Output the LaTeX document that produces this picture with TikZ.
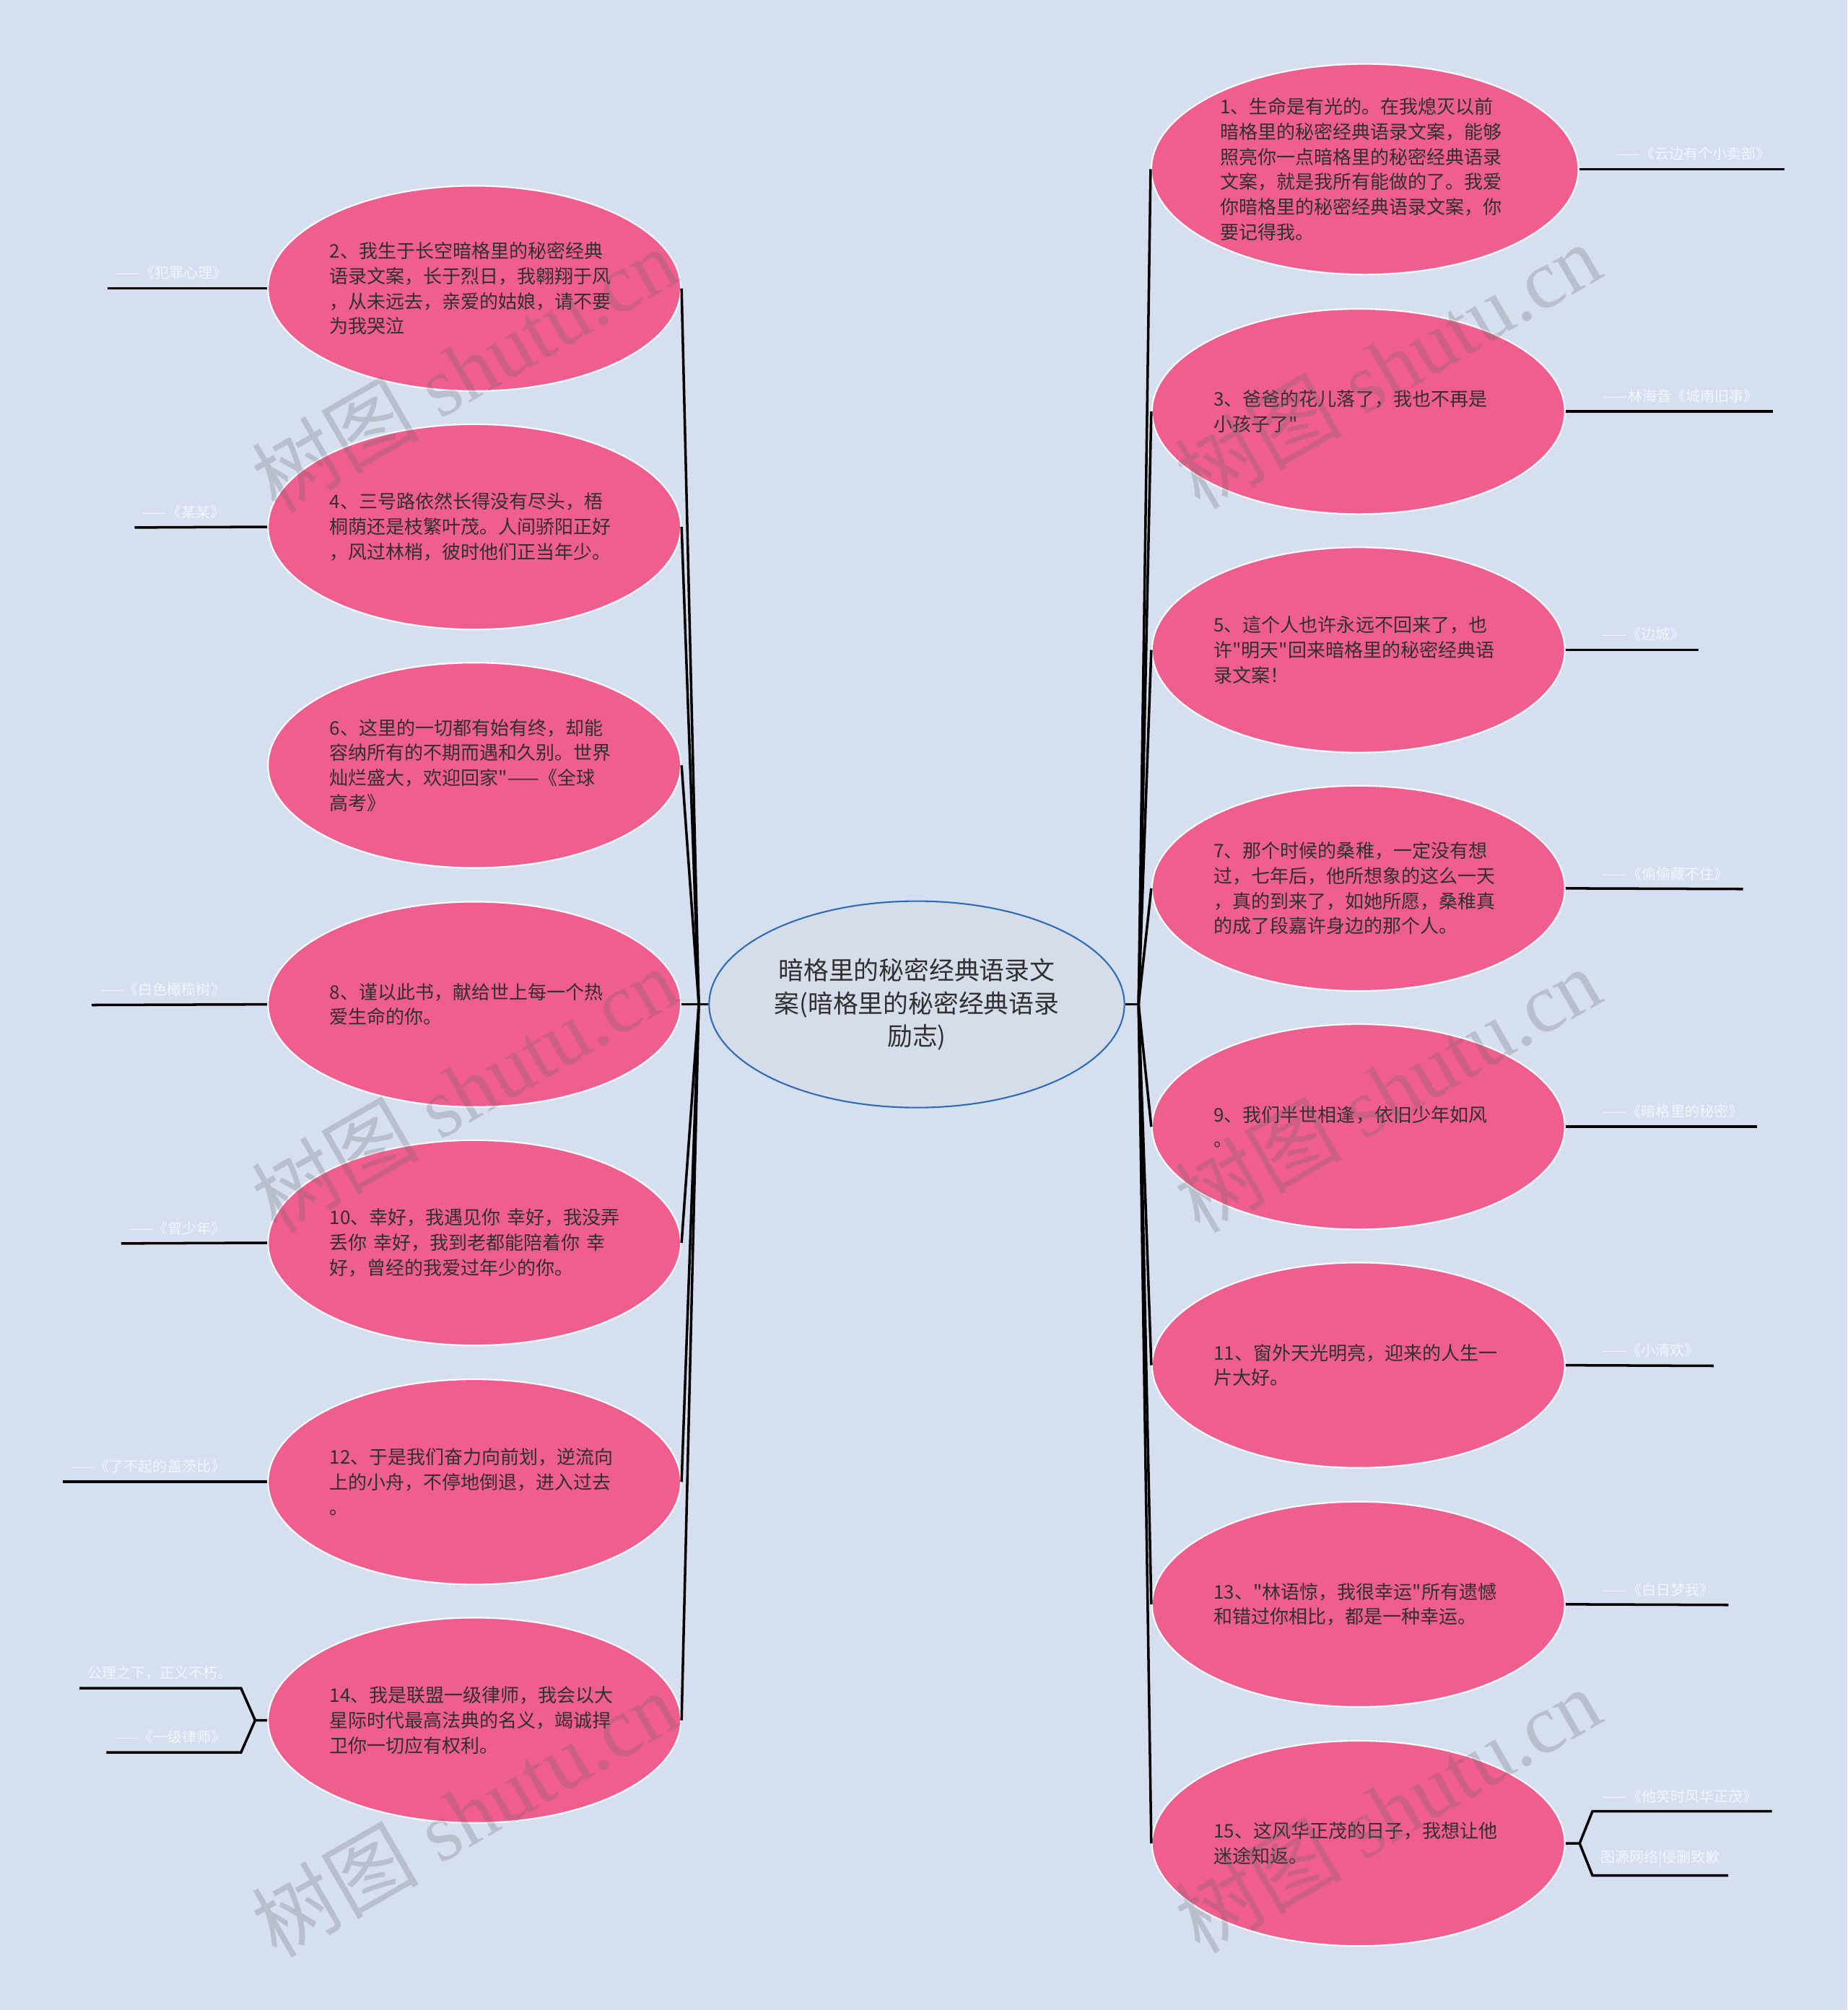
\documentclass[tikz,border=0pt]{standalone}
\usepackage{fontspec}
\usepackage{tikz}
\usetikzlibrary{shapes.geometric}
\newfontfamily\cjk{Noto Sans CJK SC}
\newfontfamily\wmserif{Liberation Serif}
\definecolor{bgc}{RGB}{214,223,240}
\definecolor{pinkc}{RGB}{240,94,141}
\definecolor{rootc}{RGB}{213,221,234}
\definecolor{rootline}{RGB}{46,108,182}
\definecolor{txtc}{RGB}{48,48,48}
\definecolor{leafc}{RGB}{241,245,252}
\tikzset{
  root/.style={ellipse, fill=rootc, draw=rootline, line width=0.6pt, minimum width=163.7pt, minimum height=81.4pt, inner sep=0pt, text width=114pt, align=center, text=txtc, font=\cjk\fontsize{9.9}{12.9}\selectfont},
  bubble/.style={ellipse, fill=pinkc, draw=white, line width=0.6pt, minimum width=162.7pt, minimum height=80.9pt, inner sep=0pt, text width=114pt, align=left, text=txtc, font=\cjk\fontsize{7.4}{9.9}\selectfont},
  link/.style={draw=black, line width=1pt},
  leafl/.style={anchor=south west, inner xsep=3pt, inner ysep=3.2pt, text=leafc, font=\cjk\fontsize{5.7}{6.8}\selectfont},
  leafr/.style={anchor=south east, inner xsep=5.5pt, inner ysep=3.2pt, text=leafc, font=\cjk\fontsize{5.7}{6.8}\selectfont},
  wmark/.style={rotate=30, text=black!60, text opacity=0.26, font=\wmserif\fontsize{33}{33}\selectfont}
}
\begin{document}
\begin{tikzpicture}[x=0.017765cm, y=-0.017765cm]
    % 背景
    \useasboundingbox (0,0) rectangle (1441,1568);
    \fill[bgc] (0,0) rectangle (1441,1568);

    % 中心主题
    \node[root] (ctr) at (715,783.5) {暗格里的秘密经典语录文\\案(暗格里的秘密经典语录\\励志)};

    % 左侧
    \node[bubble] (l2) at (370,225) {2、我生于长空暗格里的秘密经典\\语录文案，长于烈日，我翱翔于风\\，从未远去，亲爱的姑娘，请不要\\为我哭泣};
    \node[bubble] (l4) at (370,411) {4、三号路依然长得没有尽头，梧\\桐荫还是枝繁叶茂。人间骄阳正好\\，风过林梢，彼时他们正当年少。};
    \node[bubble] (l6) at (370,597) {6、这里的一切都有始有终，却能\\容纳所有的不期而遇和久别。世界\\灿烂盛大，欢迎回家"——《全球\\高考》};
    \node[bubble] (l8) at (370,783.5) {8、谨以此书，献给世上每一个热\\爱生命的你。};
    \node[bubble] (l10) at (370,969.5) {10、幸好，我遇见你~幸好，我没弄\\丢你~幸好，我到老都能陪着你~幸\\好，曾经的我爱过年少的你。};
    \node[bubble] (l12) at (370,1156) {12、于是我们奋力向前划，逆流向\\上的小舟，不停地倒退，进入过去\\。};
    \node[bubble] (l14) at (370,1342) {14、我是联盟一级律师，我会以大\\星际时代最高法典的名义，竭诚捍\\卫你一切应有权利。};

    % 右侧
    \node[bubble, minimum width=168.3pt, minimum height=83pt] (r1) at (1064.5,132) {1、生命是有光的。在我熄灭以前\\暗格里的秘密经典语录文案，能够\\照亮你一点暗格里的秘密经典语录\\文案，就是我所有能做的了。我爱\\你暗格里的秘密经典语录文案，你\\要记得我。};
    \node[bubble] (r3) at (1059.5,321) {3、爸爸的花儿落了，我也不再是\\小孩子了"};
    \node[bubble] (r5) at (1059.5,507) {5、這个人也许永远不回来了，也\\许"明天"回来暗格里的秘密经典语\\录文案！};
    \node[bubble] (r7) at (1059.5,693) {7、那个时候的桑稚，一定没有想\\过，七年后，他所想象的这么一天\\，真的到来了，如她所愿，桑稚真\\的成了段嘉许身边的那个人。};
    \node[bubble] (r9) at (1059.5,879) {9、我们半世相逢，依旧少年如风\\。};
    \node[bubble] (r11) at (1059.5,1065) {11、窗外天光明亮，迎来的人生一\\片大好。};
    \node[bubble] (r13) at (1059.5,1251.5) {13、"林语惊，我很幸运"所有遗憾\\和错过你相比，都是一种幸运。};
    \node[bubble] (r15) at (1059.5,1438) {15、这风华正茂的日子，我想让他\\迷途知返。};

    % 连线
    \coordinate (lj) at (545,783.5);
    \coordinate (rj) at (888,783.5);
    \draw[link] (ctr.west) -- (lj);
    \draw[link] (ctr.east) -- (rj);
    \draw[link] (lj) -- (l2.east);
    \draw[link] (lj) -- (l4.east);
    \draw[link] (lj) -- (l6.east);
    \draw[link] (lj) -- (l8.east);
    \draw[link] (lj) -- (l10.east);
    \draw[link] (lj) -- (l12.east);
    \draw[link] (lj) -- (l14.east);
    \draw[link] (rj) -- (r1.west);
    \draw[link] (rj) -- (r3.west);
    \draw[link] (rj) -- (r5.west);
    \draw[link] (rj) -- (r7.west);
    \draw[link] (rj) -- (r9.west);
    \draw[link] (rj) -- (r11.west);
    \draw[link] (rj) -- (r13.west);
    \draw[link] (rj) -- (r15.west);

    % 出处
    \node[leafl] (s2) at (84,225) {——《犯罪心理》};
    \draw[link] (l2.west) -- (s2.south west);
    \node[leafl] (s4) at (105,411.5) {——《某某》};
    \draw[link] (l4.west) -- (s4.south west);
    \node[leafl] (s8) at (71.5,784) {——《白色橄榄树》};
    \draw[link] (l8.west) -- (s8.south west);
    \node[leafl] (s10) at (94.5,970) {——《曾少年》};
    \draw[link] (l10.west) -- (s10.south west);
    \node[leafl] (s12) at (49,1156) {——《了不起的盖茨比》};
    \draw[link] (l12.west) -- (s12.south west);

    \coordinate (b14) at (199,1342);
    \coordinate (k14a) at (188,1317);
    \coordinate (k14b) at (188,1367);
    \node[leafl] (s14a) at (62,1317) {公理之下，正义不朽。};
    \node[leafl] (s14b) at (83,1367) {——《一级律师》};
    \draw[link] (l14.west) -- (b14) -- (k14a) -- (s14a.south west);
    \draw[link] (b14) -- (k14b) -- (s14b.south west);

    \node[leafr] (s1) at (1392,132) {——《云边有个小卖部》};
    \draw[link] (r1.east) -- (s1.south east);
    \node[leafr] (s3) at (1382.5,321) {——林海音《城南旧事》};
    \draw[link] (r3.east) -- (s3.south east);
    \node[leafr] (s5) at (1325,507) {——《边城》};
    \draw[link] (r5.east) -- (s5.south east);
    \node[leafr] (s7) at (1359.5,693.5) {——《偷偷藏不住》};
    \draw[link] (r7.east) -- (s7.south east);
    \node[leafr] (s9) at (1370.5,879) {——《暗格里的秘密》};
    \draw[link] (r9.east) -- (s9.south east);
    \node[leafr] (s11) at (1336.5,1065.5) {——《小清欢》};
    \draw[link] (r11.east) -- (s11.south east);
    \node[leafr] (s13) at (1348,1252) {——《白日梦我》};
    \draw[link] (r13.east) -- (s13.south east);

    \coordinate (b15) at (1232,1438);
    \coordinate (k15a) at (1242,1413);
    \coordinate (k15b) at (1242,1463);
    \node[leafr] (s15a) at (1382,1413) {——《他笑时风华正茂》};
    \node[leafl] (s15b) at (1242,1463) {图源网络|侵删致歉};
    \draw[link] (r15.east) -- (b15) -- (k15a) -- (s15a.south east);
    \draw[link] (b15) -- (k15b) -- (s15b.south east);

    % 水印
    \node[wmark] (wm1) at (362,288) {{\cjk 树图} shutu.cn};
    \node[wmark] (wm2) at (362,850) {{\cjk 树图} shutu.cn};
    \node[wmark] (wm3) at (362,1415) {{\cjk 树图} shutu.cn};
    \node[wmark] (wm4) at (1082,285) {{\cjk 树图} shutu.cn};
    \node[wmark] (wm5) at (1082,850) {{\cjk 树图} shutu.cn};
    \node[wmark] (wm6) at (1082,1412) {{\cjk 树图} shutu.cn};
\end{tikzpicture}
\end{document}
